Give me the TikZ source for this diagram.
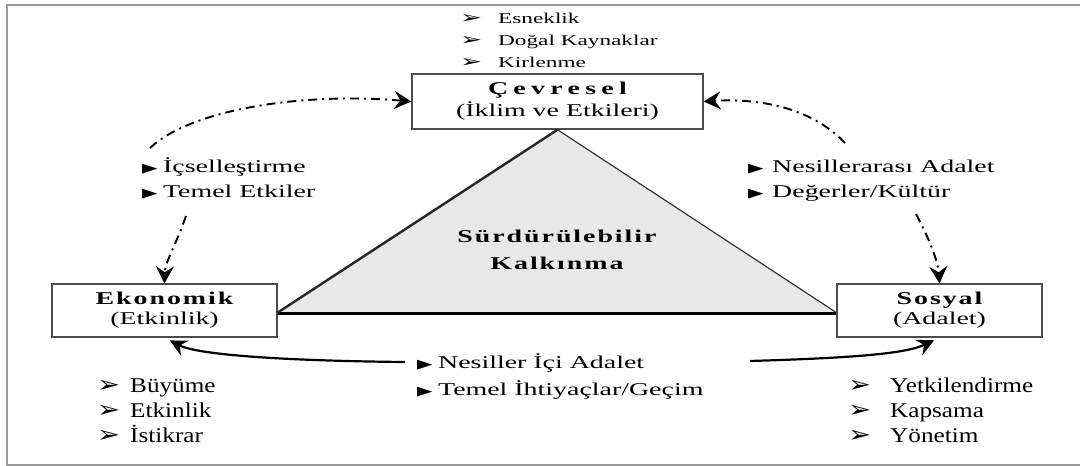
\documentclass[tikz,border=0pt]{standalone}
\usepackage{fontspec}
\usepackage{graphicx}
\setmainfont{Liberation Serif}
\newfontfamily\dv{DejaVu Sans}
\newfontfamily\tf[LetterSpace=7]{Liberation Serif}
\newfontfamily\tfw[LetterSpace=19]{Liberation Serif}
\usetikzlibrary{arrows.meta}
\newcommand\W[1]{\scalebox{1.55}[1]{#1}}
\newcommand\V[1]{\scalebox{1.2}[1]{#1}}
\newcommand\arrA{\makebox[24.5pt][l]{\dv\fontsize{17}{17}\selectfont ➢}}
\newcommand\arrBl{\makebox[27.5pt][l]{\dv\fontsize{23}{23}\selectfont ➢}}
\newcommand\arrBr{\makebox[35pt][l]{\dv\fontsize{23}{23}\selectfont ➢}}
\newcommand\blt[1]{\makebox[#1][l]{\dv\fontsize{13}{13}\selectfont ▶}}
\begin{document}
\begin{tikzpicture}[x=1pt,y=-1pt,
  box/.style={draw=black!70, line width=1.4pt, fill=white, inner sep=0pt, align=center},
  dd/.style={line width=1.9pt, dash pattern=on 9pt off 5pt on 2pt off 5pt, -{Stealth[length=17pt,width=18pt,inset=6pt]}},
  sa/.style={line width=2.2pt, shorten >=6pt, -{Stealth[length=17pt,width=17pt,inset=6pt]}},
  lbl/.style={inner sep=0pt, anchor=west, align=left}]
\useasboundingbox (0,0) rectangle (1080,466);
\draw[black!40, line width=2pt] (1090,5) -- (7,5) -- (7,465) -- (1090,465);

% boxes
\node[box, minimum width=291pt, minimum height=55pt, font={\fontsize{18}{22}\selectfont}] (cev) at (557.5,101.5)
  {\W{\tfw\bfseries Çevresel}\\\W{(İklim ve Etkileri)}};
\node[box, minimum width=225pt, minimum height=53pt, font={\fontsize{18}{20}\selectfont}] (eko) at (164.5,310.5)
  {\W{\tf\bfseries Ekonomik}\\\W{(Etkinlik)}};
\node[box, minimum width=205pt, minimum height=53pt, font={\fontsize{18}{20}\selectfont}] (sos) at (939.5,310.5)
  {\W{\tf\bfseries Sosyal}\\\W{(Adalet)}};

% triangle
\coordinate (tl) at (277,313);
\coordinate (tr) at (837,313);
\fill[black!9] (cev.south) -- (tl) -- (tr) -- cycle;
\draw[line width=2.4pt, black!85] (tl) -- (cev.south);
\draw[line width=1.2pt, black!80] (cev.south) -- (tr);
\draw[line width=3pt] (eko.east |- tl) -- (sos.west |- tr);
\node[align=center, inner sep=0pt, font={\fontsize{18}{27}\selectfont}] (sk) at (557,250)
  {\W{\tf\bfseries Sürdürülebilir}\\\W{\tf\bfseries Kalkınma}};

% top list
\node[lbl] (tlist) at (460,41) {\W{\fontsize{15}{22}\selectfont
  \begin{tabular}{@{}l@{}l@{}}
  \arrA & Esneklik\\ \arrA & Doğal Kaynaklar\\ \arrA & Kirlenme
  \end{tabular}}};

% side labels
\node[lbl] (llab) at (142,179.5) {\W{\fontsize{18}{25}\selectfont
  \begin{tabular}{@{}l@{}l@{}}
  \blt{13.5pt} & İçselleştirme\\ \blt{13.5pt} & Temel Etkiler
  \end{tabular}}};
\node[lbl] (rlab) at (748,179.5) {\W{\fontsize{18}{25}\selectfont
  \begin{tabular}{@{}l@{}l@{}}
  \blt{15.5pt} & Nesillerarası Adalet\\ \blt{15.5pt} & Değerler/Kültür
  \end{tabular}}};
\node[lbl] (blab) at (417,376.5) {\W{\fontsize{18}{27}\selectfont
  \begin{tabular}{@{}l@{}l@{}}
  \blt{13.5pt} & Nesiller İçi Adalet\\ \blt{13.5pt} & Temel İhtiyaçlar/Geçim
  \end{tabular}}};

% bottom lists
\node[lbl] (lbl1) at (97,412) {\V{\fontsize{21}{25}\selectfont
  \begin{tabular}{@{}l@{}l@{}}
  \arrBl & Büyüme\\ \arrBl & Etkinlik\\ \arrBl & İstikrar
  \end{tabular}}};
\node[lbl] (lbl2) at (848,412) {\V{\fontsize{21}{25}\selectfont
  \begin{tabular}{@{}l@{}l@{}}
  \arrBr & Yetkilendirme\\ \arrBr & Kapsama\\ \arrBr & Yönetim
  \end{tabular}}};

% dash-dot connectors
\coordinate (a1) at (150,148);
\coordinate (a2) at (186,216);
\coordinate (a3) at (845,143);
\coordinate (a4) at (916,214);
\draw[dd] (a1) .. controls (190,110) and (300,92) .. (cev.west);
\draw[dd] (a2) .. controls (176,245) and (165,262) .. (eko.north);
\draw[dd] (a3) .. controls (812,108) and (760,98) .. (cev.east);
\draw[dd] (a4) .. controls (930,240) and (938,262) .. (sos.north);

% solid connectors
\coordinate (b1) at (405,362);
\coordinate (b2) at (750,361);
\draw[sa] (b1) .. controls (300,361) and (200,356) .. (eko.south);
\draw[sa] (b2) .. controls (850,358) and (905,354) .. (sos.south);
\end{tikzpicture}
\end{document}
